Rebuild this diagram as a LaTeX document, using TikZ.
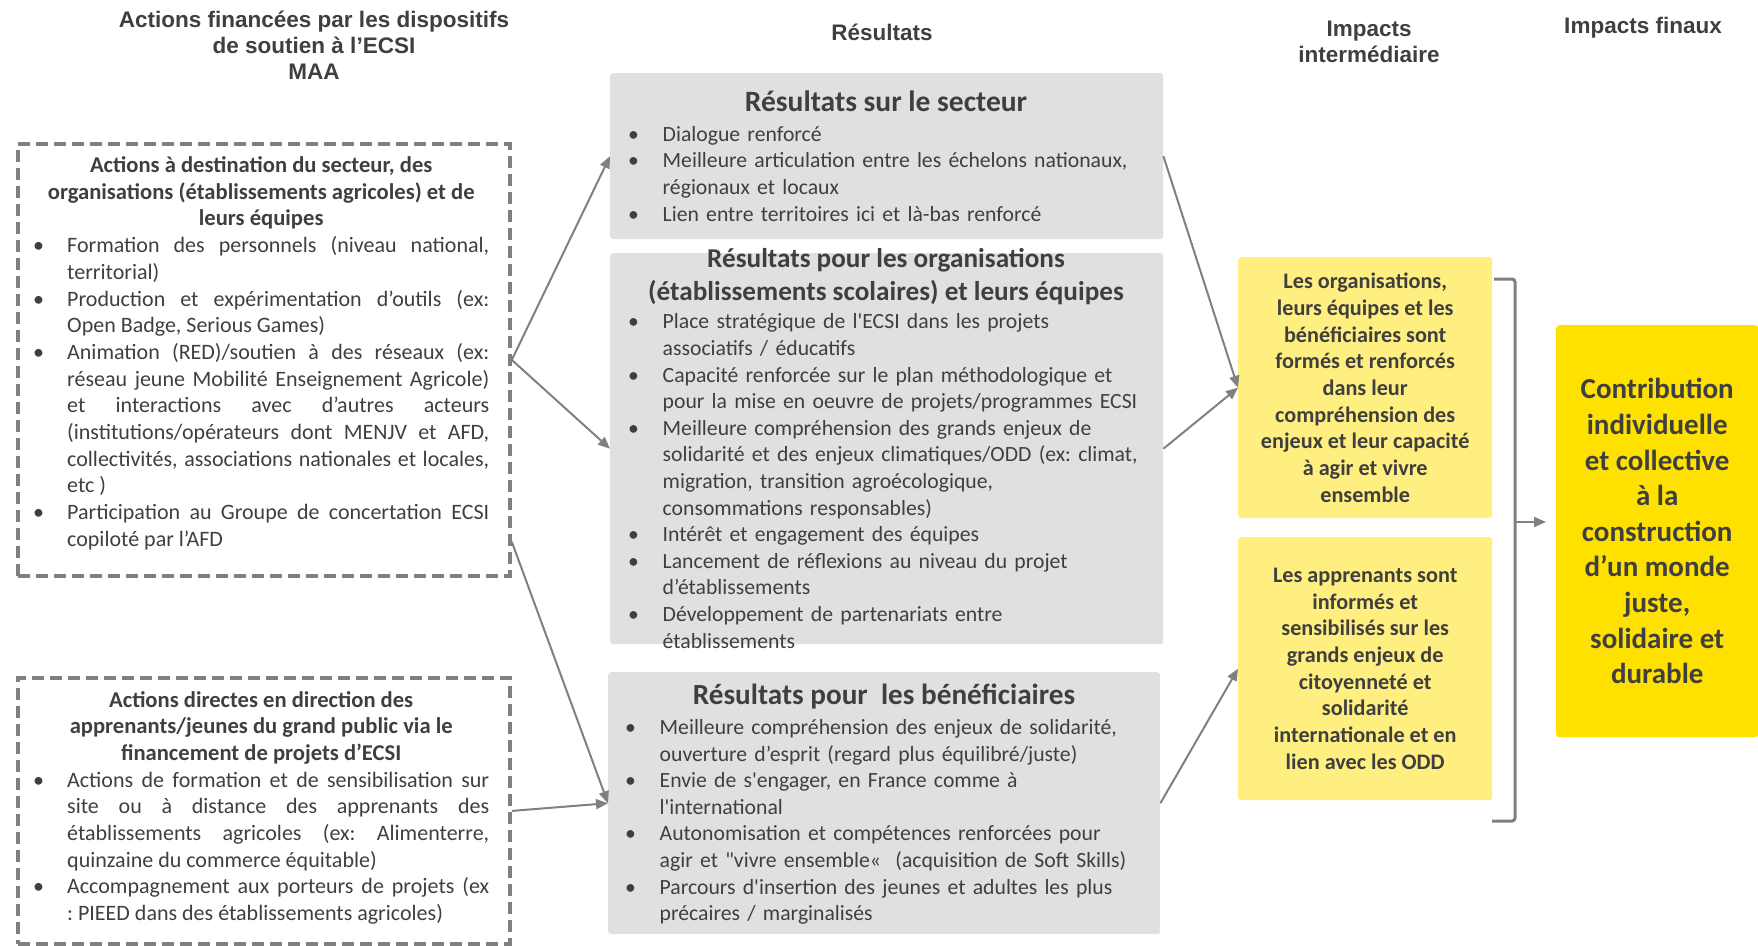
\documentclass[tikz,border=0pt]{standalone}
\usepackage{fontspec}
\setmainfont{Carlito}
\newfontfamily\hdfont{Liberation Sans}
\usetikzlibrary{arrows.meta,calc}
\frenchspacing
\definecolor{txt}{HTML}{3F3F3F}
\definecolor{gfill}{HTML}{E0E0E0}
\definecolor{ylight}{HTML}{FFEF80}
\definecolor{ybig}{HTML}{FFE100}
\definecolor{arr}{HTML}{808080}
% bullet items: the bullet is pulled back into the left skip
\newcommand\itmL{\par\noindent\hskip-34pt\makebox[34pt][l]{•}}
\newcommand\itmG{\par\noindent\hskip-34.5pt\makebox[34.5pt][l]{•}}
\newcommand\tp[1]{\rule{0pt}{#1pt}}
\newcommand\sq{\textquotesingle}
\newcommand\dq{\textquotedbl}
\begin{document}
\begin{tikzpicture}[x=1pt,y=-1pt,
  every node/.style={text=txt, inner sep=0pt},
  dbox/.style={draw=arr, line width=3.8pt, dash pattern=on 12pt off 6pt, anchor=north west},
  gbox/.style={fill=gfill, rounded corners=3pt, anchor=north west},
  ybox/.style={fill=ylight, rounded corners=3pt, anchor=north west, align=center, font=\fontsize{22.2}{26.7}\selectfont\bfseries},
  bigbox/.style={fill=ybig, rounded corners=3pt, anchor=north west, align=center, font=\fontsize{29}{35.6}\selectfont\bfseries},
  txtL/.style={anchor=north west, text width=456pt, align=justify, font=\fontsize{22}{26.7}\selectfont},
  txtG/.style={anchor=north west, text width=520pt, align=left, font=\fontsize{21.7}{26.6}\selectfont},
  ghead/.style={anchor=north, align=center},
  hdr/.style={align=center, font=\hdfont\fontsize{22.5}{26}\selectfont\bfseries},
  conn/.style={draw=arr, line width=2pt, -{Triangle[length=12pt,width=10pt]}}
]
\useasboundingbox (0,0) rectangle (1758,945);

% headers
\node[hdr] (h1) at (314,45) {Actions financées par les dispositifs\\de soutien à l’ECSI\\MAA};
\node[hdr] (h2) at (882,32) {Résultats};
\node[hdr] (h3) at (1369,42) {Impacts\\intermédiaire};
\node[hdr] (h4) at (1643,28) {Impacts finaux};

% left dashed boxes
\node[dbox, minimum width=492pt, minimum height=432pt] (b1) at (16,142) {};
\node[dbox, minimum width=492pt, minimum height=266pt] (b2) at (16,676) {};

\node[txtL] (t1) at (33,150.3) {%
{\centering\fontsize{22.6}{26.7}\selectfont\bfseries\tp{22}Actions à destination du secteur, des\\ organisations (établissements agricoles) et de\\ leurs équipes\par}
{\leftskip=34pt
\itmL Formation des personnels (niveau national,\linebreak territorial)
\itmL Production et expérimentation d’outils (ex:\linebreak Open Badge, Serious Games)
\itmL Animation (RED)/soutien à des réseaux (ex:\linebreak réseau jeune Mobilité Enseignement Agricole)\linebreak et interactions avec d’autres acteurs\linebreak (institutions/opérateurs dont MENJV et AFD,\linebreak collectivités, associations nationales et locales,\linebreak etc )
\itmL Participation au Groupe de concertation ECSI\linebreak copiloté par l’AFD\par}};

\node[txtL] (t2) at (33,684.8) {%
{\centering\fontsize{22.6}{26.7}\selectfont\bfseries\tp{22}Actions directes en direction des\\ apprenants/jeunes du grand public via le\\ financement de projets d’ECSI\par}
{\leftskip=34pt
\itmL Actions de formation et de sensibilisation sur\linebreak site ou à distance des apprenants des\linebreak établissements agricoles (ex: Alimenterre,\linebreak quinzaine du commerce équitable)
\itmL Accompagnement aux porteurs de projets (ex\linebreak : PIEED dans des établissements agricoles)\par}};

% grey result boxes
\node[gbox, minimum width=553pt, minimum height=166pt] (g1) at (610,73) {};
\node[gbox, minimum width=553pt, minimum height=391pt] (g2) at (610,253) {};
\node[gbox, minimum width=552pt, minimum height=262pt] (g3) at (608,672) {};

\node[ghead, font=\fontsize{29.5}{34}\selectfont\bfseries] (gh1) at (886,82) {\tp{29.5}Résultats sur le secteur};
\node[ghead, font=\fontsize{27.2}{32.5}\selectfont\bfseries] (gh2) at (886,240.5) {\tp{27.2}Résultats pour les organisations\\(établissements scolaires) et leurs équipes};
\node[ghead, font=\fontsize{29.2}{34}\selectfont\bfseries] (gh3) at (884,675) {\tp{29.2}Résultats pour\ \ les bénéficiaires};

\node[txtG] (gb1) at (628,114.5) {%
{\leftskip=34.5pt
\itmG\tp{21.7}Dialogue renforcé
\itmG Meilleure articulation entre les échelons nationaux,\\ régionaux et locaux
\itmG Lien entre territoires ici et là-bas renforcé\par}};

\node[txtG] (gb2) at (628,302) {%
{\leftskip=34.5pt
\itmG\tp{21.7}Place stratégique de l\sq ECSI dans les projets\\ associatifs / éducatifs
\itmG Capacité renforcée sur le plan méthodologique et\\ pour la mise en oeuvre de projets/programmes ECSI
\itmG Meilleure compréhension des grands enjeux de\\ solidarité et des enjeux climatiques/ODD (ex: climat,\\ migration, transition agroécologique,\\ consommations responsables)
\itmG Intérêt et engagement des équipes
\itmG Lancement de réflexions au niveau du projet\\ d’établissements
\itmG Développement de partenariats entre\\ établissements\par}};

\node[txtG] (gb3) at (625,707.7) {%
{\leftskip=34.5pt
\itmG\tp{21.7}Meilleure compréhension des enjeux de solidarité,\\ ouverture d’esprit (regard plus équilibré/juste)
\itmG Envie de s\sq engager, en France comme à\\ l\sq international
\itmG Autonomisation et compétences renforcées pour\\ agir et \dq vivre ensemble«\ \ (acquisition de Soft Skills)
\itmG Parcours d\sq insertion des jeunes et adultes les plus\\ précaires / marginalisés\par}};

% yellow impact boxes
\node[ybox, minimum width=254pt, minimum height=261pt] (y1) at (1238,257) {Les organisations,\\leurs équipes et les\\bénéficiaires sont\\formés et renforcés\\dans leur\\compréhension des\\enjeux et leur capacité\\à agir et vivre\\ensemble};
\node[ybox, minimum width=254pt, minimum height=263pt] (y2) at (1238,537) {Les apprenants sont\\informés et\\sensibilisés sur les\\grands enjeux de\\citoyenneté et\\solidarité\\internationale et en\\lien avec les ODD};
\node[bigbox, minimum width=202pt, minimum height=412pt] (big) at (1556,325) {Contribution\\individuelle\\et collective\\à la\\construction\\d’un monde\\juste,\\solidaire et\\durable};

% connectors
\draw[conn] (b1.east) -- (g1.west);
\draw[conn] (b1.east) -- (g2.west);
\draw[conn] ($(b1.south east)+(0,-36)$) -- (g3.west);
\draw[conn] (b2.east) -- (g3.west);
\draw[conn] (g1.east) -- (y1.west);
\draw[conn] (g2.east) -- (y1.west);
\draw[conn] (g3.east) -- (y2.west);

% bracket
\coordinate (bt) at (1494,279);
\coordinate (bb) at (1492,821);
\coordinate (bm) at (1515,522);
\coordinate (ba) at (1546,522);
\draw[draw=arr, line width=3pt, rounded corners=3pt] (bt) -| (bm) |- (bb);
\draw[conn, line width=1.8pt] (bm) -- (ba);
\end{tikzpicture}
\end{document}
